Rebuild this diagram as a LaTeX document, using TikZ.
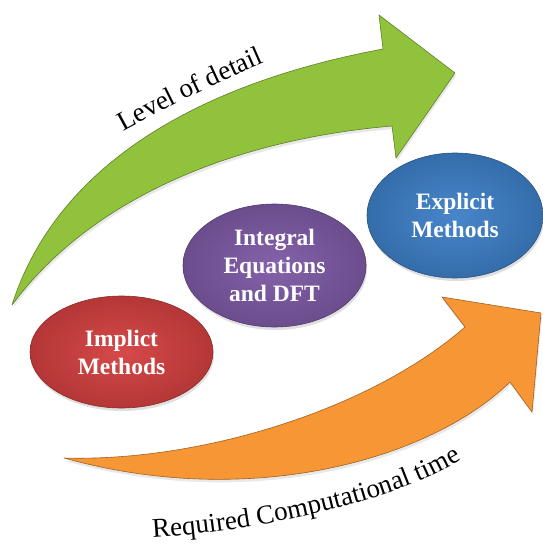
\documentclass[tikz,border=0pt]{standalone}
\usepackage{fontspec}
\setmainfont{LiberationSerif}[Extension=.ttf, UprightFont=*-Regular, BoldFont=*-Bold, ItalicFont=*-Italic, BoldItalicFont=*-BoldItalic]
\usetikzlibrary{shapes.geometric,shadows,decorations.text}

\definecolor{leafgreen}{RGB}{144,194,60}
\definecolor{sunorange}{RGB}{247,150,52}
\definecolor{implred}{RGB}{212,64,64}
\definecolor{intpurple}{RGB}{126,90,166}
\definecolor{explblue}{RGB}{62,128,200}

\tikzset{
  methodbox/.style={ellipse, inner sep=0pt, draw=#1!65!black, line width=0.6pt,
    inner color=#1!95!white, outer color=#1!85!black,
    text=white, align=center, font=\bfseries\fontsize{23.5}{28}\selectfont,
    drop shadow={opacity=0.25, shadow xshift=1pt, shadow yshift=-3pt}},
  bigarrow/.style={fill=#1, draw=#1!65!black, line width=0.6pt, line join=round,
    drop shadow={opacity=0.18, shadow xshift=1pt, shadow yshift=-3pt}},
  arrowlabel/.style={decorate, decoration={text along path, text align=center,
    text={|\fontsize{27}{30}\selectfont|#1}}}
}

\begin{document}
\begin{tikzpicture}[x=1pt,y=-1pt]

\useasboundingbox (0,0) rectangle (542,545);

% Level of detail arrow (green, top)
\path[bigarrow=leafgreen] (12,305) .. controls (55,170) and (190,85) .. (383,49)
  -- (379,15) -- (455,73) -- (396,158) -- (392,126)
  .. controls (230,140) and (90,200) .. (12,305) -- cycle;

% Computational time arrow (orange, bottom)
\path[bigarrow=sunorange] (64,458) .. controls (200,462) and (370,410) .. (465,327)
  -- (442,297) -- (541,313) -- (532,412) -- (510,382)
  .. controls (430,460) and (250,510) .. (64,458) -- cycle;

% Labels along the arrows
\path[arrowlabel={Level of detail}] (113,137) .. controls (165,108) and (215,84) .. (275,58);
\path[arrowlabel={Required Computational time}] (148,538) .. controls (250,532) and (390,505) .. (466,457);

% Methods
\node[methodbox=implred, minimum width=183pt, minimum height=112pt] (implicit) at (121.5,352) {Implict\\Methods};
\node[methodbox=intpurple, minimum width=183pt, minimum height=123pt] (integral) at (274.5,265.5) {Integral\\Equations\\and DFT};
\node[methodbox=explblue, minimum width=176pt, minimum height=125pt] (explicit) at (455,215.5) {Explicit\\Methods};

\end{tikzpicture}
\end{document}
